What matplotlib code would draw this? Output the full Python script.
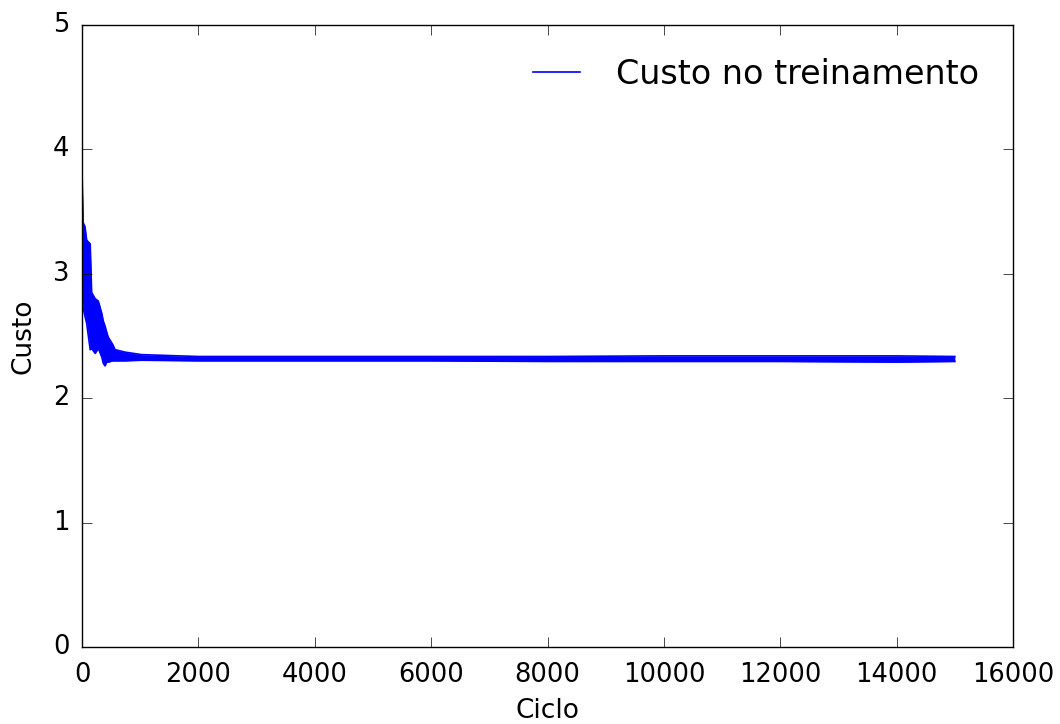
import matplotlib
matplotlib.use("Agg")
import matplotlib.pyplot as plt

# Training cost envelope (upper / lower edge of the noisy band)
ciclo = [0, 20, 50, 80, 140, 165, 225, 280, 340, 365, 395, 424, 450, 530, 567,
         740, 1025, 2000, 4000, 6000, 8000, 10000, 12000, 14000, 15000]
custo_alto = [3.81, 3.41, 3.38, 3.27, 3.24, 2.85, 2.80, 2.78, 2.68, 2.62, 2.58,
              2.53, 2.49, 2.43, 2.39, 2.37, 2.35, 2.335, 2.335, 2.335, 2.335,
              2.34, 2.34, 2.34, 2.335]
custo_baixo = [2.79, 2.72, 2.66, 2.60, 2.39, 2.40, 2.36, 2.40, 2.33, 2.28, 2.26,
               2.29, 2.29, 2.30, 2.30, 2.30, 2.305, 2.30, 2.30, 2.30, 2.295,
               2.295, 2.295, 2.29, 2.295]

plt.style.use("classic")

fig = plt.figure(figsize=(10.6, 7.24), dpi=100, facecolor="white")
ax = fig.add_axes([0.0774, 0.1064, 0.8783, 0.8591])

ax.fill_between(ciclo, custo_baixo, custo_alto, color="b", lw=0)
ax.plot(ciclo, custo_alto, color="b", lw=1.2, label="Custo no treinamento")
ax.plot(ciclo, custo_baixo, color="b", lw=1.2)

ax.set_xlim(0, 16000)
ax.set_ylim(0, 5)
ax.set_xticks(range(0, 16001, 2000))
ax.set_yticks(range(0, 6))
ax.tick_params(labelsize=18.5, length=7)
ax.tick_params(axis="x", pad=11)
ax.tick_params(axis="y", pad=9)
ax.set_xlabel("Ciclo", fontsize=19, labelpad=7)
ax.set_ylabel("Custo", fontsize=19, labelpad=12)

ax.legend(loc="upper right", bbox_to_anchor=(0.989, 0.985), frameon=False,
          fontsize=24, handlelength=2.0, handletextpad=0.8, borderaxespad=0.3)

fig.savefig("out.png", dpi=100, facecolor="white")
